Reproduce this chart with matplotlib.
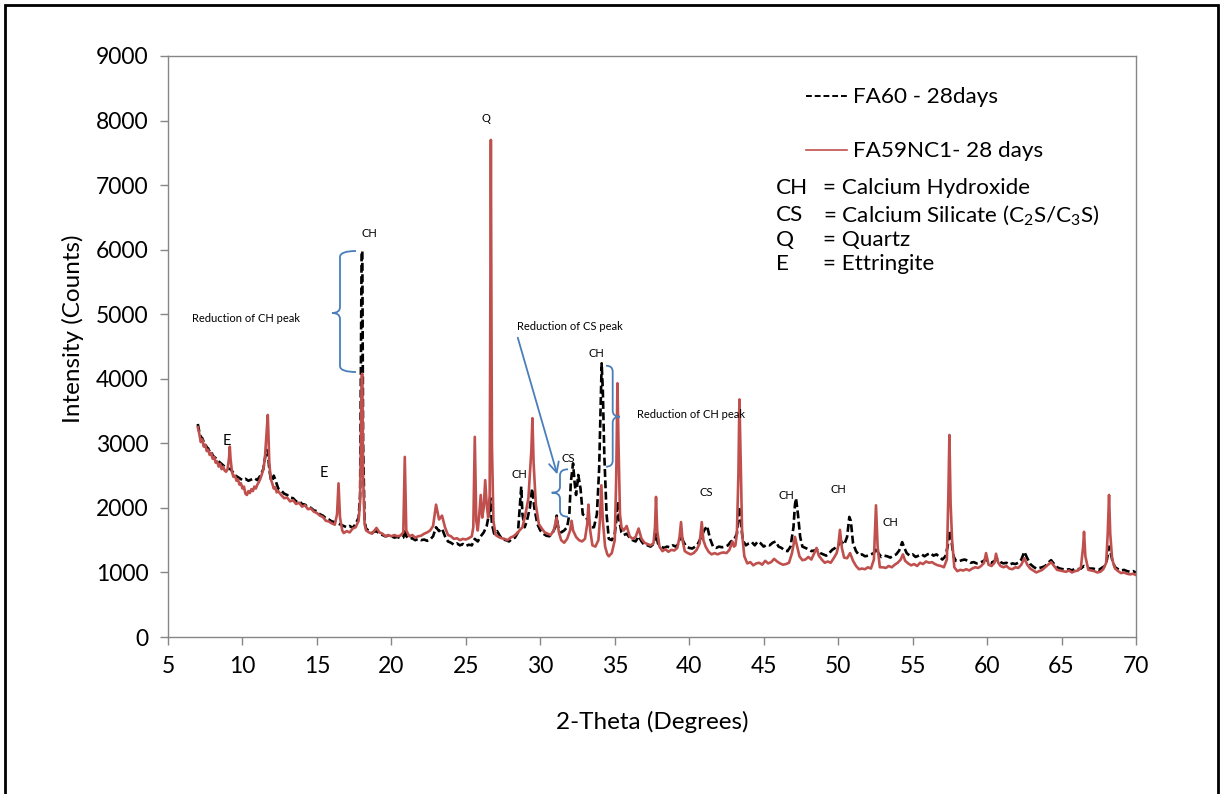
import matplotlib
matplotlib.use('Agg')
import matplotlib.pyplot as plt
from matplotlib.path import Path
from matplotlib.patches import PathPatch, Rectangle

plt.rcParams['font.family'] = ['Lato', 'DejaVu Sans']
plt.rcParams['mathtext.fontset'] = 'custom'
plt.rcParams['mathtext.rm'] = 'Lato'
plt.rcParams['mathtext.it'] = 'Lato:italic'

# FA59NC1 - 28 days (red)
x_nc = [7.0, 7.1, 7.2, 7.3, 7.4, 7.5, 7.6, 7.7, 7.8, 7.9, 8.0, 8.1, 8.2, 8.3, 8.4, 8.5, 8.6, 8.7, 8.8, 8.9,
        9.0, 9.1, 9.15, 9.2, 9.3, 9.4, 9.5, 9.6, 9.7, 9.8, 9.9, 10.0, 10.1, 10.2, 10.3, 10.4, 10.5, 10.6, 10.7,
        10.8, 10.9, 11.0, 11.1, 11.2, 11.3, 11.4, 11.5, 11.6, 11.7, 11.75, 11.8, 11.9, 12.0, 12.1, 12.2, 12.3,
        12.4, 12.6, 12.8, 13.0, 13.2, 13.4, 13.6, 13.8, 14.0, 14.2, 14.4, 14.6, 14.8, 15.0, 15.2, 15.4, 15.6,
        15.8, 16.0, 16.2, 16.35, 16.45, 16.55, 16.7, 16.8, 17.0, 17.2, 17.4, 17.6, 17.8, 17.9, 18.0, 18.05,
        18.1, 18.2, 18.3, 18.5, 18.7, 19.0, 19.2, 19.4, 19.6, 19.8, 20.0, 20.2, 20.4, 20.6, 20.8, 20.9, 21.0,
        21.2, 21.4, 21.6, 21.8, 22.0, 22.2, 22.4, 22.6, 22.8, 23.0, 23.2, 23.4, 23.6, 23.8, 24.0, 24.2, 24.4,
        24.6, 24.8, 25.0, 25.2, 25.4, 25.5, 25.6, 25.7, 25.8, 25.9, 26.0, 26.1, 26.2, 26.3, 26.4, 26.5, 26.6,
        26.68, 26.75, 26.85, 27.0, 27.2, 27.4, 27.6, 27.8, 28.0, 28.2, 28.4, 28.6, 28.8, 29.0, 29.2, 29.4,
        29.47, 29.55, 29.7, 29.9, 30.1, 30.3, 30.5, 30.7, 30.9, 31.1, 31.25, 31.4, 31.6, 31.8, 32.0, 32.1,
        32.2, 32.4, 32.6, 32.8, 33.0, 33.15, 33.23, 33.35, 33.5, 33.7, 33.9, 34.0, 34.1, 34.2, 34.35, 34.5,
        34.6, 34.8, 35.0, 35.1, 35.18, 35.25, 35.35, 35.45, 35.6, 35.8, 36.0, 36.2, 36.4, 36.6, 36.8, 37.0,
        37.2, 37.4, 37.6, 37.7, 37.77, 37.85, 38.0, 38.2, 38.4, 38.6, 38.8, 39.0, 39.2, 39.35, 39.45, 39.55,
        39.7, 39.9, 40.1, 40.3, 40.5, 40.7, 40.84, 40.95, 41.1, 41.3, 41.5, 41.7, 41.9, 42.1, 42.3, 42.5,
        42.7, 42.9, 43.0, 43.1, 43.2, 43.3, 43.37, 43.45, 43.55, 43.7, 43.9, 44.1, 44.3, 44.5, 44.7, 44.9,
        45.1, 45.3, 45.5, 45.7, 45.9, 46.1, 46.3, 46.5, 46.7, 46.9, 47.1, 47.25, 47.4, 47.6, 47.8, 48.0,
        48.2, 48.4, 48.55, 48.7, 48.9, 49.1, 49.3, 49.5, 49.7, 49.9, 50.0, 50.12, 50.25, 50.4, 50.6, 50.8,
        51.0, 51.2, 51.4, 51.6, 51.8, 52.0, 52.2, 52.4, 52.54, 52.65, 52.8, 53.0, 53.2, 53.4, 53.6, 53.8,
        54.0, 54.2, 54.35, 54.5, 54.7, 54.9, 55.1, 55.3, 55.5, 55.7, 55.9, 56.1, 56.3, 56.5, 56.7, 56.9,
        57.1, 57.3, 57.4, 57.47, 57.55, 57.65, 57.8, 58.0, 58.2, 58.4, 58.6, 58.8, 59.0, 59.2, 59.4, 59.6,
        59.8, 59.93, 60.1, 60.3, 60.5, 60.6, 60.75, 60.9, 61.1, 61.3, 61.5, 61.7, 61.9, 62.1, 62.3, 62.5,
        62.7, 62.9, 63.1, 63.3, 63.5, 63.7, 63.9, 64.1, 64.3, 64.5, 64.7, 64.9, 65.1, 65.3, 65.5, 65.7,
        65.9, 66.1, 66.3, 66.45, 66.51, 66.6, 66.8, 67.0, 67.2, 67.4, 67.6, 67.8, 68.0, 68.1, 68.19, 68.27,
        68.4, 68.6, 68.8, 69.0, 69.2, 69.4, 69.6, 69.8, 70.0]
y_nc = [3250, 3150, 3020, 3060, 2950, 2980, 2880, 2900, 2820, 2850, 2760, 2790, 2700, 2720, 2640, 2680, 2600, 2640, 2580, 2560,
        2600, 2780, 2950, 2760, 2550, 2480, 2500, 2420, 2440, 2360, 2380, 2300, 2330, 2220, 2200, 2260, 2230, 2290, 2260,
        2330, 2300, 2360, 2400, 2450, 2520, 2600, 2750, 3100, 3440, 3100, 2700, 2450, 2380, 2300, 2320, 2240,
        2260, 2200, 2150, 2160, 2100, 2120, 2060, 2080, 2020, 2040, 1980, 1990, 1940, 1920, 1880, 1860, 1800,
        1790, 1760, 1740, 1900, 2380, 1850, 1650, 1610, 1640, 1620, 1680, 1700, 1800, 2100, 4050, 4080,
        2500, 1750, 1650, 1620, 1600, 1690, 1620, 1600, 1560, 1580, 1560, 1580, 1560, 1570, 1620, 2790, 1650,
        1560, 1580, 1540, 1560, 1570, 1600, 1620, 1650, 1720, 2050, 1820, 1880, 1700, 1580, 1560, 1520, 1530,
        1500, 1520, 1510, 1530, 1560, 1700, 3100, 1800, 1650, 1900, 2200, 1850, 2000, 2430, 2050, 1850, 2200,
        7700, 3000, 1800, 1580, 1550, 1530, 1520, 1500, 1540, 1560, 1600, 1650, 1700, 1900, 2150, 2900,
        3390, 2700, 2050, 1750, 1680, 1620, 1600, 1580, 1650, 1850, 1620, 1500, 1460, 1520, 1650, 1800,
        1650, 1550, 1500, 1480, 1520, 1750, 2050, 1650, 1420, 1400, 1500, 1800, 2350, 1800, 1400, 1280,
        1250, 1300, 1500, 2500, 3930, 3000, 1900, 1700, 1650, 1720, 1560, 1520, 1550, 1680, 1520, 1460,
        1440, 1420, 1450, 1700, 2170, 1650, 1400, 1330, 1360, 1320, 1350, 1340, 1380, 1550, 1780, 1500,
        1330, 1300, 1280, 1300, 1350, 1450, 1780, 1500, 1400, 1320, 1280, 1300, 1280, 1300, 1310, 1300,
        1350, 1480, 1400, 1420, 1600, 2500, 3680, 2800, 1600, 1250, 1140, 1160, 1110, 1140, 1150, 1120,
        1180, 1140, 1160, 1210, 1170, 1140, 1120, 1130, 1150, 1300, 1550, 1400, 1250, 1190, 1200, 1240,
        1200, 1300, 1380, 1260, 1200, 1150, 1170, 1150, 1220, 1300, 1400, 1660, 1380, 1230, 1220, 1300,
        1180, 1100, 1050, 1060, 1050, 1080, 1060, 1200, 2040, 1400, 1080, 1080, 1070, 1100, 1080, 1120,
        1150, 1200, 1280, 1180, 1140, 1110, 1130, 1100, 1150, 1130, 1170, 1150, 1160, 1130, 1110, 1100,
        1080, 1200, 2200, 3130, 2080, 1500, 1080, 1020, 1040, 1030, 1050, 1030, 1060, 1080, 1070, 1100,
        1150, 1300, 1120, 1100, 1150, 1290, 1150, 1100, 1080, 1100, 1060, 1050, 1080, 1070, 1120, 1220,
        1120, 1060, 1030, 1000, 1020, 1040, 1080, 1120, 1160, 1100, 1040, 1030, 1020, 1010, 1030, 1000,
        1020, 1030, 1080, 1400, 1630, 1250, 1040, 1030, 1020, 1000, 1010, 1050, 1150, 1600, 2200, 1600,
        1200, 1060, 1020, 990, 1000, 980, 970, 980, 960]

# FA60 - 28days (black dashed)
x_fa = [7.0, 7.1, 7.2, 7.3, 7.4, 7.5, 7.6, 7.7, 7.8, 7.9, 8.0, 8.2, 8.4, 8.6, 8.8, 9.0, 9.2, 9.4, 9.6, 9.8,
        10.0, 10.2, 10.4, 10.6, 10.8, 11.0, 11.2, 11.4, 11.5, 11.6, 11.7, 11.8, 11.9, 12.0, 12.1, 12.2, 12.4,
        12.6, 12.8, 13.0, 13.2, 13.4, 13.6, 13.8, 14.0, 14.2, 14.4, 14.6, 14.8, 15.0, 15.2, 15.4, 15.6, 15.8,
        16.0, 16.2, 16.4, 16.6, 16.8, 17.0, 17.2, 17.4, 17.6, 17.8, 17.9, 18.0, 18.05, 18.1, 18.2, 18.3, 18.5,
        18.7, 19.0, 19.2, 19.4, 19.6, 19.8, 20.0, 20.2, 20.4, 20.6, 20.8, 20.9, 21.0, 21.2, 21.4, 21.6, 21.8,
        22.0, 22.2, 22.4, 22.6, 22.8, 23.0, 23.2, 23.4, 23.6, 23.8, 24.0, 24.2, 24.4, 24.6, 24.8, 25.0, 25.2,
        25.4, 25.6, 25.8, 26.0, 26.2, 26.4, 26.55, 26.65, 26.75, 26.9, 27.1, 27.3, 27.5, 27.7, 27.9, 28.1,
        28.3, 28.5, 28.65, 28.72, 28.8, 28.95, 29.1, 29.3, 29.45, 29.6, 29.8, 30.0, 30.2, 30.4, 30.6, 30.8,
        31.0, 31.1, 31.2, 31.4, 31.6, 31.8, 31.95, 32.05, 32.2, 32.3, 32.4, 32.55, 32.7, 32.85, 33.0, 33.2,
        33.4, 33.6, 33.8, 33.95, 34.05, 34.12, 34.2, 34.3, 34.45, 34.6, 34.8, 35.0, 35.1, 35.2, 35.3, 35.45,
        35.6, 35.8, 36.0, 36.2, 36.4, 36.6, 36.8, 37.0, 37.2, 37.4, 37.6, 37.77, 37.9, 38.1, 38.3, 38.5,
        38.7, 38.9, 39.1, 39.3, 39.45, 39.6, 39.8, 40.0, 40.2, 40.4, 40.6, 40.8, 41.0, 41.2, 41.4, 41.6,
        41.8, 42.0, 42.2, 42.4, 42.6, 42.8, 43.0, 43.2, 43.35, 43.45, 43.6, 43.8, 44.0, 44.2, 44.4, 44.6,
        44.8, 45.0, 45.2, 45.4, 45.6, 45.8, 46.0, 46.2, 46.4, 46.6, 46.8, 47.0, 47.1, 47.17, 47.3, 47.45,
        47.6, 47.8, 48.0, 48.2, 48.4, 48.6, 48.8, 49.0, 49.2, 49.4, 49.6, 49.8, 50.0, 50.2, 50.4, 50.6,
        50.75, 50.85, 51.0, 51.2, 51.4, 51.6, 51.8, 52.0, 52.2, 52.4, 52.55, 52.7, 52.9, 53.1, 53.3, 53.5,
        53.7, 53.9, 54.1, 54.3, 54.45, 54.6, 54.8, 55.0, 55.2, 55.4, 55.6, 55.8, 56.0, 56.2, 56.4, 56.6,
        56.8, 57.0, 57.2, 57.35, 57.47, 57.6, 57.75, 57.9, 58.1, 58.3, 58.5, 58.7, 58.9, 59.1, 59.3, 59.5,
        59.7, 59.9, 60.1, 60.3, 60.5, 60.7, 60.9, 61.1, 61.3, 61.5, 61.7, 61.9, 62.1, 62.3, 62.5, 62.7,
        62.9, 63.1, 63.3, 63.5, 63.7, 63.9, 64.1, 64.3, 64.5, 64.7, 64.9, 65.1, 65.3, 65.5, 65.7, 65.9,
        66.1, 66.3, 66.5, 66.7, 66.9, 67.1, 67.3, 67.5, 67.7, 67.9, 68.05, 68.19, 68.3, 68.45, 68.6, 68.8,
        69.0, 69.2, 69.4, 69.6, 69.8, 70.0]
y_fa = [3300, 3180, 3100, 3080, 3020, 2990, 2940, 2920, 2870, 2880, 2810, 2770, 2720, 2680, 2640, 2610, 2600, 2540, 2490, 2460,
        2430, 2450, 2420, 2440, 2460, 2430, 2500, 2600, 2750, 2900, 2880, 2600, 2450, 2420, 2500, 2440, 2300,
        2270, 2220, 2200, 2160, 2150, 2100, 2110, 2060, 2050, 2010, 2000, 1960, 1950, 1900, 1880, 1840, 1820,
        1790, 1780, 1760, 1740, 1720, 1700, 1720, 1690, 1750, 1850, 2200, 5970, 5980, 3000, 1800, 1680, 1640,
        1620, 1640, 1600, 1580, 1560, 1570, 1560, 1540, 1550, 1530, 1540, 1680, 1560, 1520, 1530, 1500, 1520,
        1500, 1510, 1490, 1510, 1560, 1700, 1640, 1680, 1560, 1480, 1460, 1430, 1450, 1420, 1440, 1410, 1430,
        1420, 1520, 1480, 1560, 1620, 1720, 1900, 2150, 1750, 1600, 1640, 1560, 1510, 1500, 1480, 1520,
        1540, 1620, 2100, 2330, 1900, 1700, 1800, 2000, 2300, 2000, 1750, 1650, 1600, 1570, 1560, 1600,
        1700, 1880, 1700, 1620, 1650, 1700, 1900, 2400, 2690, 2400, 2200, 2510, 2300, 1900, 1880, 1800,
        1700, 1700, 1900, 2600, 3600, 4240, 3800, 2800, 1900, 1520, 1500, 1600, 1800, 2100, 1800, 1620,
        1580, 1600, 1540, 1500, 1480, 1560, 1480, 1420, 1420, 1400, 1440, 1600, 1450, 1400, 1380, 1400,
        1390, 1420, 1400, 1450, 1600, 1480, 1400, 1380, 1370, 1400, 1450, 1550, 1650, 1720, 1520, 1400,
        1380, 1400, 1390, 1400, 1420, 1480, 1500, 1600, 2020, 1800, 1500, 1420, 1450, 1470, 1420, 1480,
        1450, 1400, 1430, 1420, 1460, 1480, 1400, 1380, 1340, 1330, 1400, 1700, 2050, 2150, 1900, 1550,
        1400, 1380, 1360, 1330, 1340, 1350, 1300, 1280, 1260, 1300, 1350, 1380, 1420, 1480, 1430, 1550,
        1860, 1800, 1450, 1330, 1270, 1280, 1250, 1260, 1280, 1300, 1380, 1300, 1240, 1260, 1250, 1230,
        1260, 1280, 1340, 1470, 1380, 1300, 1260, 1280, 1240, 1260, 1280, 1250, 1280, 1300, 1260, 1280,
        1240, 1200, 1250, 1400, 1650, 1500, 1250, 1180, 1170, 1190, 1200, 1180, 1150, 1160, 1140, 1150,
        1170, 1200, 1170, 1150, 1180, 1200, 1160, 1140, 1150, 1120, 1140, 1130, 1150, 1200, 1320, 1220,
        1130, 1090, 1060, 1070, 1080, 1100, 1150, 1190, 1130, 1080, 1060, 1050, 1040, 1050, 1030, 1060,
        1050, 1060, 1100, 1080, 1060, 1060, 1050, 1040, 1070, 1100, 1200, 1400, 1300, 1150, 1080, 1050,
        1030, 1040, 1020, 1010, 1020, 1000]

x_ticks = list(range(5, 75, 5))
y_ticks = list(range(0, 10000, 1000))

red = '#C0504D'
blue = '#4A7EBB'
grey = '#868686'

fig = plt.figure(figsize=(12.2, 7.94), dpi=100)
ax = fig.add_axes([168/1220, 1-637/794, (1136-168)/1220, (637-56)/794])

ax.plot(x_fa, y_fa, color='black', lw=1.9, linestyle=(0, (3, 1.3)), zorder=2)
ax.plot(x_nc, y_nc, color=red, lw=1.9, zorder=3)

ax.set_xlim(5, 70)
ax.set_ylim(0, 9000)
ax.set_xticks(x_ticks)
ax.set_yticks(y_ticks)
for s in ax.spines.values():
    s.set_color(grey)
    s.set_linewidth(1.0)
ax.tick_params(direction='out', length=6, width=1, color=grey, labelsize=16.5, pad=8)
ax.set_xlabel('2-Theta (Degrees)', fontsize=17.5, labelpad=24)
ax.set_ylabel('Intensity (Counts)', fontsize=17.5)
ax.yaxis.set_label_coords(-0.087, 0.53)


def fp(x, y):
    # image pixel -> figure fraction
    return (x/1220, 1 - y/794)


def brace(xt, xs, xe, yt, ym, yb):
    r = 6
    pts = [fp(xe, yt), fp(xs, yt), fp(xs, yt + r),
           fp(xs, ym - r), fp(xs, ym), fp(xt, ym),
           fp(xs, ym), fp(xs, ym + r),
           fp(xs, yb - r), fp(xs, yb), fp(xe, yb)]
    codes = [Path.MOVETO, Path.CURVE3, Path.CURVE3,
             Path.LINETO, Path.CURVE3, Path.CURVE3,
             Path.CURVE3, Path.CURVE3,
             Path.LINETO, Path.CURVE3, Path.CURVE3]
    p = PathPatch(Path(pts, codes), transform=fig.transFigure, fill=False,
                  edgecolor=blue, lw=1.3)
    fig.add_artist(p)


brace(332, 340, 356, 251, 313, 372)
brace(551.7, 560, 568, 469.3, 492.7, 516.7)
brace(620, 612.7, 606, 365.7, 416.7, 466.7)

ax.annotate('', xy=(558, 794-477), xytext=(517, 794-335), xycoords='figure pixels',
            textcoords='figure pixels',
            arrowprops=dict(arrowstyle='->', color=blue, lw=1.3, mutation_scale=18))

small = 8
ax.text(18.5, 6258, 'CH', fontsize=small, ha='center', va='center')
ax.text(26.35, 8039, 'Q', fontsize=small, ha='center', va='center')
ax.text(28.57, 2520, 'CH', fontsize=small, ha='center', va='center')
ax.text(31.88, 2768, 'CS', fontsize=small, ha='center', va='center')
ax.text(33.74, 4394, 'CH', fontsize=small, ha='center', va='center')
ax.text(41.13, 2246, 'CS', fontsize=small, ha='center', va='center')
ax.text(46.53, 2189, 'CH', fontsize=small, ha='center', va='center')
ax.text(50.0, 2292, 'CH', fontsize=small, ha='center', va='center')
ax.text(53.53, 1777, 'CH', fontsize=small, ha='center', va='center')
ax.text(8.96, 3036, 'E', fontsize=10.5, ha='center', va='center')
ax.text(15.48, 2540, 'E', fontsize=10.5, ha='center', va='center')

fig.text(*fp(192, 319), 'Reduction of CH peak', fontsize=small, ha='left', va='center')
fig.text(*fp(517, 327), 'Reduction of CS peak', fontsize=small, ha='left', va='center')
fig.text(*fp(637, 414), 'Reduction of CH peak', fontsize=small, ha='left', va='center')

# legend
fig.add_artist(plt.Line2D([806/1220, 847/1220], [1-96/794, 1-96/794], color='black',
                          lw=1.4, linestyle=(0, (3, 1.5)), transform=fig.transFigure))
fig.add_artist(plt.Line2D([806/1220, 847/1220], [1-150/794, 1-150/794], color=red,
                          lw=1.2, transform=fig.transFigure))
fig.text(*fp(853, 97), 'FA60 - 28days', fontsize=16.2, va='center')
fig.text(*fp(853, 151), 'FA59NC1- 28 days', fontsize=16.2, va='center')

defs = [('CH', '= Calcium Hydroxide'),
        ('CS', r'= Calcium Silicate (C$_2$S/C$_3$S)'),
        ('Q', '= Quartz'),
        ('E', '= Ettringite')]
rows = [188, 215, 240, 264]
for (k, v), yy in zip(defs, rows):
    fig.text(*fp(776, yy), k, fontsize=16.2, va='center')
    fig.text(*fp(823, yy), v, fontsize=16.2, va='center')

fig.add_artist(Rectangle((5/1220, -0.02), 1213/1220, 1.02 - 5/794, transform=fig.transFigure,
                         fill=False, edgecolor='black', lw=2))

fig.savefig('out.png', dpi=100)
